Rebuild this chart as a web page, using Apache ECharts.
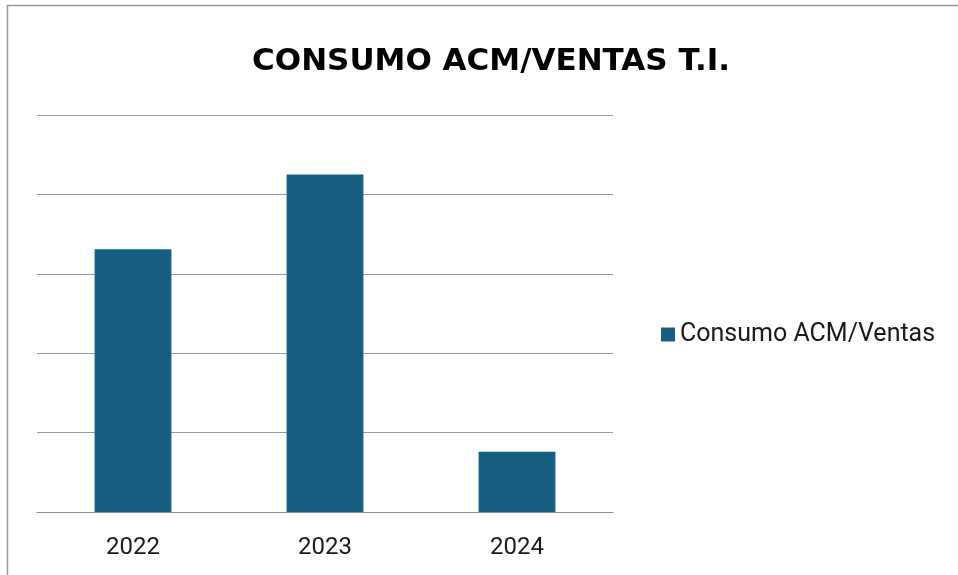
<!DOCTYPE html>
<html>
<head>
<meta charset="utf-8">
<script src="https://cdn.jsdelivr.net/npm/echarts@6/dist/echarts.min.js"></script>
<style>
  html, body { margin: 0; padding: 0; background: #fff; }
  #chart { width: 958px; height: 575px; }
</style>
</head>
<body>
<div id="chart"></div>
<script>
var years = ["2022", "2023", "2024"];
var consumo = [3.31, 4.25, 0.76];

var chart = echarts.init(document.getElementById("chart"), null, { renderer: "canvas" });
chart.setOption({
  animation: false,
  title: {
    text: "CONSUMO ACM/VENTAS T.I.",
    left: 486,
    top: 41,
    textAlign: "center",
    textStyle: {
      fontFamily: "DejaVu Sans",
      fontWeight: "bold",
      fontSize: 31,
      color: "#000"
    }
  },
  graphic: [{
    type: "rect",
    left: 5,
    top: 3,
    shape: { width: 1200, height: 1200 },
    style: { fill: "none", stroke: "#9a9a9a", lineWidth: 1.5 },
    silent: true
  }],
  legend: {
    data: ["Consumo ACM/Ventas"],
    orient: "vertical",
    icon: "rect",
    left: 656,
    top: 317,
    itemWidth: 14,
    itemHeight: 14,
    itemGap: 7,
    textStyle: {
      fontFamily: "Roboto",
      fontSize: 25,
      color: "#1a1a1a"
    }
  },
  grid: {
    left: 37,
    right: 345,
    top: 115,
    bottom: 63
  },
  xAxis: {
    type: "category",
    data: years,
    axisTick: { show: false },
    axisLine: { lineStyle: { color: "#8c8c8c", width: 1 } },
    axisLabel: {
      margin: 24,
      fontFamily: "Roboto",
      fontSize: 24,
      color: "#1a1a1a"
    }
  },
  yAxis: {
    type: "value",
    min: 0,
    max: 5,
    interval: 1,
    axisLabel: { show: false },
    axisLine: { show: false },
    axisTick: { show: false },
    splitLine: { lineStyle: { color: "#9a9a9a", width: 1 } }
  },
  series: [{
    name: "Consumo ACM/Ventas",
    type: "bar",
    data: consumo,
    barCategoryGap: "60%",
    itemStyle: { color: "#165f80" }
  }]
});
</script>
</body>
</html>
